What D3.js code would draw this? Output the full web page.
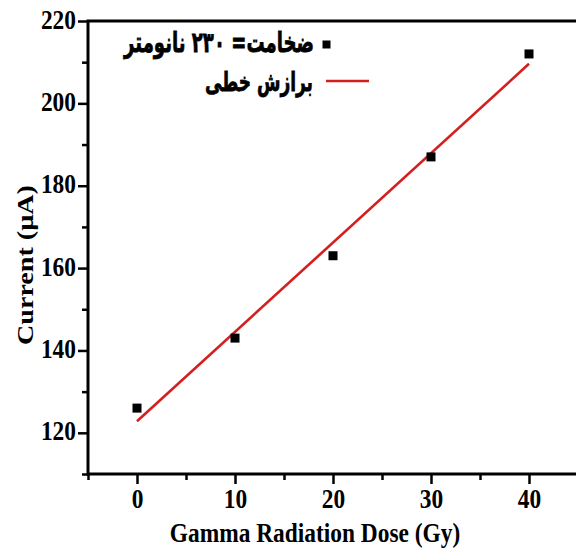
<!DOCTYPE html>
<html><head><meta charset="utf-8">
<script src="https://cdn.jsdelivr.net/npm/d3@7"></script>
<style>body{margin:0;background:#fff}svg{display:block}</style>
</head><body>
<svg id="c" width="576" height="549"></svg>
<script>
const doses = [0, 10, 20, 30, 40];
const currents = [126, 143, 163, 187, 212];
const fitX = [0, 40];
const fitY = [122.8, 209.6];
const xMajorTicks = [0, 10, 20, 30, 40];
const xMinorTicks = [-5, 5, 15, 25, 35, 45];
const yMajorTicks = [120, 140, 160, 180, 200, 220];
const yMinorTicks = [110, 130, 150, 170, 190, 210];
const legendLabels = ["ضخامت= ۲۳۰ نانومتر", "برازش خطی"];
const xTitle = "Gamma Radiation Dose (Gy)";
const yTitle = "Current (\u00b5A)";

const svg = d3.select("#c");
const x = d3.scaleLinear().domain([-5, 45]).range([88, 578]);
const y = d3.scaleLinear().domain([110, 220]).range([474, 21]);
const serif = "'Liberation Serif','Times New Roman',serif";
const SY = 1.2, FS = 23.4;

// frame
const g = svg.append("g");
g.append("rect").attr("x", x(-5)).attr("y", y(220)).attr("width", x(45)-x(-5)).attr("height", y(110)-y(220))
  .attr("fill", "none").attr("stroke", "#000").attr("stroke-width", 3);

// axes
const xAx = g.append("g").attr("transform", `translate(0,${y(110)})`)
  .call(d3.axisBottom(x).tickValues(xMajorTicks).tickSize(10).tickPadding(4).tickFormat(d3.format("d")));
const xMin = g.append("g").attr("transform", `translate(0,${y(110)})`)
  .call(d3.axisBottom(x).tickValues(xMinorTicks).tickSize(6).tickFormat(""));
const yAx = g.append("g").attr("transform", `translate(${x(-5)},0)`)
  .call(d3.axisLeft(y).tickValues(yMajorTicks).tickSize(10).tickPadding(2).tickFormat(d3.format("d")));
const yMin = g.append("g").attr("transform", `translate(${x(-5)},0)`)
  .call(d3.axisLeft(y).tickValues(yMinorTicks).tickSize(6).tickFormat(""));
[xAx, xMin, yAx, yMin].forEach(a => {
  a.select(".domain").remove();
  a.selectAll(".tick line").attr("stroke", "#000").attr("stroke-width", 2.5);
});
xAx.selectAll(".tick text").each(function(){
  const t = d3.select(this); const yy = 508;
  t.attr("y", null).attr("dy", null)
   .attr("transform", `translate(0,${yy - y(110)}) scale(1,${SY})`);
}).attr("font-family", serif).attr("font-weight", "bold").attr("font-size", FS).attr("fill", "#000");
yAx.selectAll(".tick text").each(function(){
  const t = d3.select(this);
  t.attr("dy", null).attr("x", null)
   .attr("transform", `translate(-12,7) scale(1,${SY})`);
}).attr("font-family", serif).attr("font-weight", "bold").attr("font-size", FS).attr("fill", "#000");

// titles
svg.append("text").text(xTitle).attr("font-family", serif).attr("font-weight", "bold").attr("font-size", FS)
  .attr("text-anchor", "middle").attr("transform", `translate(315,542) scale(1,${SY})`);
svg.append("text").text(yTitle).attr("font-family", serif).attr("font-weight", "bold").attr("font-size", FS)
  .attr("text-anchor", "middle").attr("transform", `translate(33,265) scale(1,${SY}) rotate(-90)`);

// fit line
const line = d3.line().x(d => x(d[0])).y(d => y(d[1]));
svg.append("path").datum(d3.zip(fitX, fitY)).attr("d", line)
  .attr("fill", "none").attr("stroke", "#d41f1f").attr("stroke-width", 2.6);

// points
svg.append("g").selectAll("rect").data(d3.zip(doses, currents)).join("rect")
  .attr("x", d => x(d[0]) - 4.5).attr("y", d => y(d[1]) - 4.5)
  .attr("width", 9).attr("height", 9).attr("fill", "#000");

// legend
const leg = svg.append("g");
leg.append("rect").attr("x", 322.5).attr("y", 40.5).attr("width", 8).attr("height", 8).attr("fill", "#000");
leg.append("line").attr("x1", 326).attr("x2", 369).attr("y1", 81).attr("y2", 81)
  .attr("stroke", "#d41f1f").attr("stroke-width", 2.6);
const rows = [{t: legendLabels[0], right: 314, base: 52, w: 191}, {t: legendLabels[1], right: 313, base: 91, w: 108}];
rows.forEach(r => {
  const t = leg.append("text").text(r.t).attr("font-family", "'DejaVu Sans',sans-serif")
    .attr("font-weight", "bold").attr("font-size", 20).attr("direction", "rtl")
    .attr("text-anchor", "start").attr("x", 0).attr("y", 0)
    .attr("stroke", "#000").attr("stroke-width", 0.5);
  const bb = t.node().getBBox();
  const fs = 20 * r.w / bb.width;
  t.attr("font-size", fs);
  const bb2 = t.node().getBBox();
  t.attr("transform", `translate(${r.right - (bb2.x + bb2.width)},${r.base}) scale(1,1.55)`);
});
</script>
</body></html>
